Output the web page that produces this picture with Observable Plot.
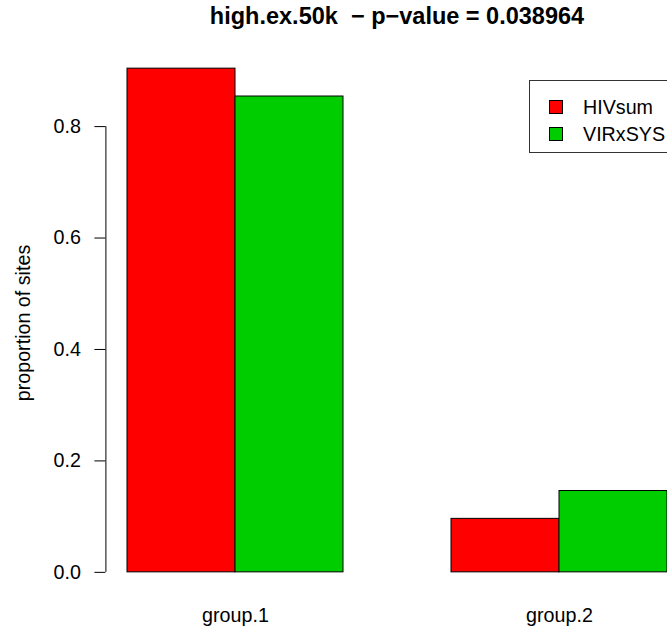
<!DOCTYPE html>
<html>
<head>
<meta charset="utf-8">
<script src="https://cdn.jsdelivr.net/npm/d3@7"></script>
<script src="https://cdn.jsdelivr.net/npm/@observablehq/plot@0.6"></script>
<style>
  html, body { margin: 0; padding: 0; background: #fff; overflow: hidden; }
  #wrap { position: relative; width: 667px; height: 627px; overflow: hidden; font-family: "Liberation Sans", Arial, sans-serif; }
  #title { position: absolute; left: 0; top: 5px; width: 794px; text-align: center; font-weight: bold; font-size: 23.5px; line-height: 1; white-space: pre; }
  #chart { position: absolute; left: 0; top: 0; width: 690px; }
  #chart svg { max-width: none !important; width: 690px; height: 627px; }
  #ylabel { position: absolute; left: 24px; top: 323px; width: 0; height: 0; }
  #ylabel span { position: absolute; left: 0; top: 0; transform: translate(-50%, -50%) rotate(-90deg); font-size: 19.7px; line-height: 1; white-space: pre; }
  #legend { position: absolute; left: 529px; top: 80px; width: 200px; height: 73px; border: 1px solid #333; box-sizing: border-box; }
  .sw { position: absolute; width: 14px; height: 14px; border: 1px solid #000; box-sizing: border-box; }
  .lt { position: absolute; font-size: 19.7px; line-height: 1; white-space: pre; }
</style>
</head>
<body>
<div id="wrap">
  <div id="chart"></div>
  <div id="title"></div>
  <div id="ylabel"><span></span></div>
  <div id="legend"></div>
</div>
<script>
const titleText = "high.ex.50k  \u2212 p\u2212value = 0.038964";
const yLabel = "proportion of sites";
const groups = ["group.1", "group.2"];
const seriesNames = ["HIVsum", "VIRxSYS"];
const seriesColors = ["#FF0000", "#00CD00"];
const HIVsum = [0.904, 0.096];
const VIRxSYS = [0.854, 0.146];
const yTicks = [0, 0.2, 0.4, 0.6, 0.8];

const seriesValues = [HIVsum, VIRxSYS];
// R barplot(beside=TRUE) layout: bar width 1, space c(0,1)
const bars = [];
groups.forEach((g, i) => {
  seriesNames.forEach((s, j) => {
    const x1 = 1 + i * (seriesNames.length + 1) + j;
    bars.push({group: g, series: s, x1, x2: x1 + 1, value: seriesValues[j][i]});
  });
});
const groupCenters = groups.map((g, i) => {
  const b = bars.filter(d => d.group === g);
  return (d3.min(b, d => d.x1) + d3.max(b, d => d.x2)) / 2;
});
const xMin = d3.min(bars, d => d.x1), xMax = d3.max(bars, d => d.x2);
const xPad = (xMax - xMin) * 0.04;
const yMax = d3.max(bars, d => d.value);
const yPad = yMax * 0.04;

const plot = Plot.plot({
  width: 690,
  height: 627,
  marginLeft: 105.4,
  marginRight: 1.4,
  marginTop: 48,
  marginBottom: 35,
  style: {fontFamily: "Liberation Sans, Arial, sans-serif", fontSize: "19.7px", background: "white", overflow: "visible", maxWidth: "none"},
  x: {domain: [xMin - xPad, xMax + xPad]},
  y: {domain: [-yPad, yMax + yPad]},
  color: {domain: seriesNames, range: seriesColors},
  marks: [
    Plot.rectY(bars, {x1: "x1", x2: "x2", y1: 0, y2: "value", fill: "series", stroke: "black", strokeWidth: 1}),
    Plot.ruleX([xMin - xPad], {y1: d3.min(yTicks), y2: d3.max(yTicks), stroke: "black", strokeWidth: 1}),
    Plot.axisY({ticks: yTicks, tickSize: 11, tickPadding: 14, tickFormat: d => d.toFixed(1), label: null, stroke: "black", fontSize: 19.7}),
    Plot.axisX({ticks: groupCenters, tickSize: 0, tickPadding: 15, tickFormat: (d) => groups[groupCenters.indexOf(d)], label: null, fontSize: 19.7})
  ]
});
document.getElementById("chart").appendChild(plot);
document.getElementById("title").textContent = titleText;
document.querySelector("#ylabel span").textContent = yLabel;

const legend = document.getElementById("legend");
seriesNames.forEach((s, j) => {
  const sw = document.createElement("div");
  sw.className = "sw";
  sw.style.left = (548 - 529) + "px";
  sw.style.top = (99 - 80 + j * 27) + "px";
  sw.style.background = seriesColors[j];
  legend.appendChild(sw);
  const t = document.createElement("div");
  t.className = "lt";
  t.style.left = (582 - 529) + "px";
  t.style.top = (96.5 - 80 + j * 27) + "px";
  t.textContent = s;
  legend.appendChild(t);
});
</script>
</body>
</html>
